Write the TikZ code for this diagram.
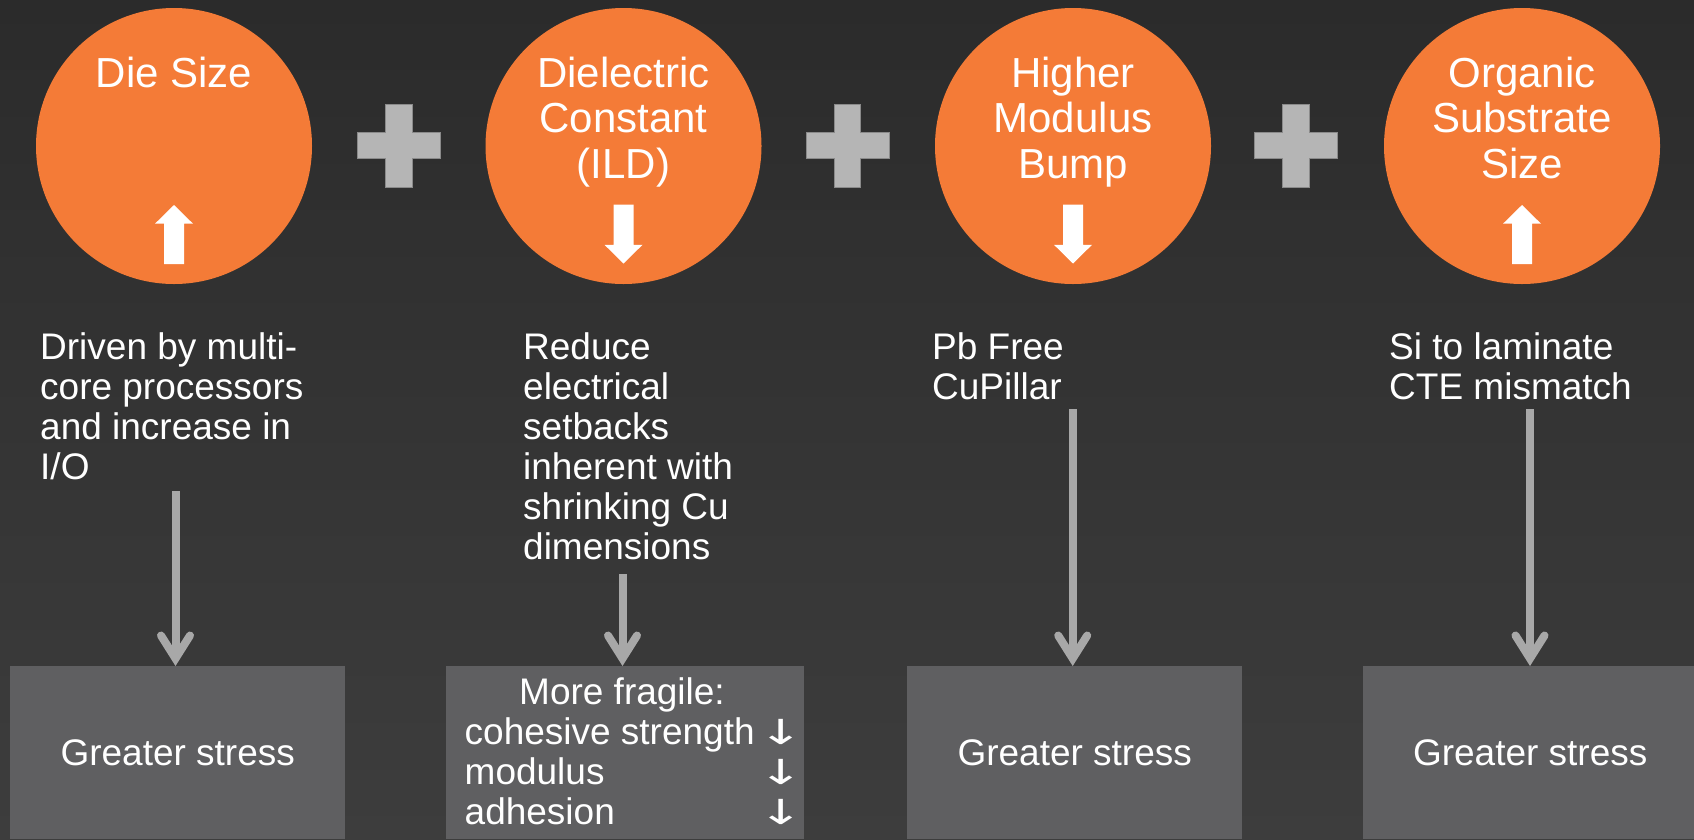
\documentclass[tikz,border=0pt]{standalone}
\usepackage{fontspec}
\usepackage{graphicx}
\setmainfont{Liberation Sans}
\newfontfamily\arrowfont{DejaVu Sans}
\usetikzlibrary{arrows.meta}
\definecolor{bgtop}{HTML}{2B2B2B}
\definecolor{bgbot}{HTML}{3D3D3D}
\definecolor{orng}{HTML}{F47B37}
\definecolor{plusc}{HTML}{B5B5B5}
\definecolor{plusedge}{HTML}{8A8A8A}
\definecolor{boxc}{HTML}{5F5F61}
\definecolor{arrc}{HTML}{A8A8A8}
\newcommand{\dnarr}{\makebox[0pt]{\scalebox{1.8}[1.15]{\arrowfont\fontsize{30}{40}\selectfont ↓}}}
\tikzset{
  circ/.style={circle, fill=orng, minimum size=276pt, inner sep=0pt},
  ctitle/.style={font=\fontsize{42}{45.5}\selectfont, text=white, anchor=base, inner sep=0pt},
  desc/.style={font=\fontsize{37}{40}\selectfont, text=white, anchor=base west, inner sep=0pt},
  stressbox/.style={fill=boxc, minimum width=335pt, minimum height=173pt, anchor=north west,
    inner sep=0pt, text=white, font=\fontsize{37}{40}\selectfont},
  conn/.style={draw=arrc, line width=8pt,
    -{Straight Barb[length=23pt, width=29pt, line cap=round, line join=miter]}},
  uparrow/.pic={\fill[white] (-10,59) -- (-10,18.7) -- (-19,18.7) -- (0,0) -- (19,18.7)
    -- (10,18.7) -- (10,59) -- cycle;},
  downarrow/.pic={\fill[white] (-10,-59) -- (-10,-18.7) -- (-19,-18.7) -- (0,0) -- (19,-18.7)
    -- (10,-18.7) -- (10,-59) -- cycle;},
  plussign/.pic={\filldraw[fill=plusc, draw=plusedge, line width=0.8pt]
    (-13.25,-41.5) -- (13.25,-41.5) -- (13.25,-13.25) -- (41.5,-13.25) -- (41.5,13.25)
    -- (13.25,13.25) -- (13.25,41.5) -- (-13.25,41.5) -- (-13.25,13.25) -- (-41.5,13.25)
    -- (-41.5,-13.25) -- (-13.25,-13.25) -- cycle;}
}
\begin{document}
\begin{tikzpicture}[x=1pt,y=-1pt]
\useasboundingbox (0,0) rectangle (1694,839);
\clip (0,0) rectangle (1694,839);
\shade[top color=bgtop, bottom color=bgbot] (0,0) rectangle (1694,839);

% circles
\node[circ] (c1) at (174,146) {};
\node[circ] (c2) at (623.5,146) {};
\node[circ] (c3) at (1073,146) {};
\node[circ] (c4) at (1522,146) {};

% titles
\node[ctitle] (t1) at (174,87) {\begin{tabular}[t]{@{}c@{}}Die Size\end{tabular}};
\node[ctitle] (t2) at (623.5,87) {\begin{tabular}[t]{@{}c@{}}Dielectric\\Constant\\(ILD)\end{tabular}};
\node[ctitle] (t3) at (1073,87) {\begin{tabular}[t]{@{}c@{}}Higher\\Modulus\\Bump\end{tabular}};
\node[ctitle] (t4) at (1522,87) {\begin{tabular}[t]{@{}c@{}}Organic\\Substrate\\Size\end{tabular}};

% white arrows in circles
\pic at (174,205) {uparrow};
\pic at (623.5,263.5) {downarrow};
\pic at (1073,263.5) {downarrow};
\pic at (1522,205) {uparrow};

% plus signs
\pic at (398.7,145.5) {plussign};
\pic at (847.5,145.5) {plussign};
\pic at (1296,145.5) {plussign};

% descriptions
\node[desc] (d1) at (40,359.5) {\begin{tabular}[t]{@{}l@{}}Driven by multi-\\core processors\\and increase in\\I/O\end{tabular}};
\node[desc] (d2) at (523,359.5) {\begin{tabular}[t]{@{}l@{}}Reduce\\electrical\\setbacks\\inherent with\\shrinking Cu\\dimensions\end{tabular}};
\node[desc] (d3) at (932,359.5) {\begin{tabular}[t]{@{}l@{}}Pb Free\\CuPillar\end{tabular}};
\node[desc] (d4) at (1389,359.5) {\begin{tabular}[t]{@{}l@{}}Si to laminate\\CTE mismatch\end{tabular}};

% bottom boxes
\node[stressbox] (b1) at (10,666) {Greater stress};
\node[stressbox, minimum width=358pt] (b2) at (446,666) {};
\node[stressbox] (b3) at (907,666) {Greater stress};
\node[stressbox, minimum width=334pt] (b4) at (1363,666) {Greater stress};
\node[desc] (b2t) at (464.5,704) {\begin{tabular}[t]{@{}l@{}}\hspace*{54.5pt}More fragile:\\
  \makebox[316.5pt][l]{cohesive strength}\dnarr\\
  \makebox[316.5pt][l]{modulus}\dnarr\\
  \makebox[316.5pt][l]{adhesion}\dnarr\end{tabular}};

% connectors
\coordinate (s1) at (175.5,491);
\coordinate (s2) at (622.5,574);
\coordinate (s3) at (1072.7,409);
\coordinate (s4) at (1530,409);
\draw[conn] (s1) -- (s1 |- b1.north);
\draw[conn] (s2) -- (s2 |- b2.north);
\draw[conn] (s3) -- (s3 |- b3.north);
\draw[conn] (s4) -- (s4 |- b4.north);
\end{tikzpicture}
\end{document}
